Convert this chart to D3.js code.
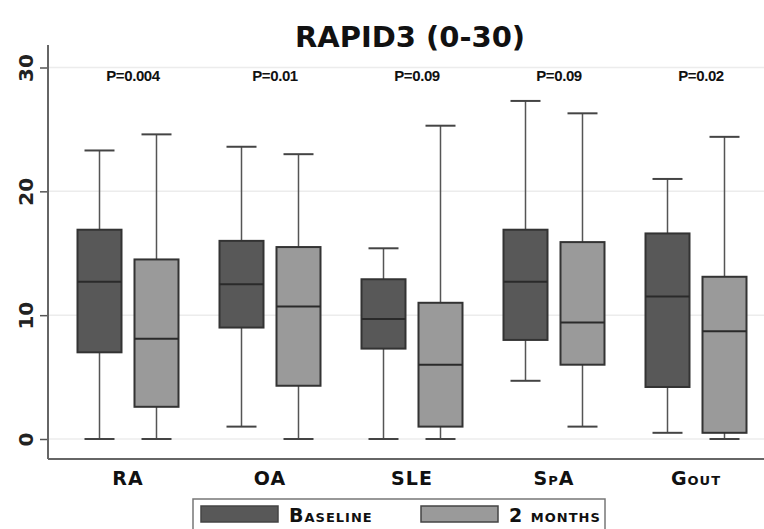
<!DOCTYPE html>
<html>
<head>
<meta charset="utf-8">
<script src="https://cdn.jsdelivr.net/npm/d3@7"></script>
<style>
  body { margin: 0; background: #fff; }
  svg { display: block; }
</style>
</head>
<body>
<svg id="chart" width="764" height="529"></svg>
<script>
// box stats: [min, q1, median, q3, max]
const groups = ["RA", "OA", "SLE", "SpA", "Gout"];
const series = ["Baseline", "2 months"];
const baseline = [
  [0, 7.0, 12.7, 16.9, 23.3],
  [1.0, 9.0, 12.5, 16.0, 23.6],
  [0, 7.3, 9.7, 12.9, 15.4],
  [4.7, 8.0, 12.7, 16.9, 27.3],
  [0.5, 4.2, 11.5, 16.6, 21.0]
];
const twoMonths = [
  [0, 2.6, 8.1, 14.5, 24.6],
  [0, 4.3, 10.7, 15.5, 23.0],
  [0, 1.0, 6.0, 11.0, 25.3],
  [1.0, 6.0, 9.4, 15.9, 26.3],
  [0, 0.5, 8.7, 13.1, 24.4]
];
const pValues = ["P=0.004", "P=0.01", "P=0.09", "P=0.09", "P=0.02"];
const yTicks = [0, 10, 20, 30];

const svg = d3.select("#chart");
const W = 764;
const fill = ["#585858", "#9a9a9a"];
const font = "'DejaVu Sans', sans-serif";

const x = d3.scaleBand().domain(groups).range([57, 767]);
const y = d3.scaleLinear().domain([0, 30]).range([439, 67.5]);
const pairW = 101;
const xs = d3.scaleBand().domain(series).range([0, pairW]).paddingInner(0.228);
const off = (x.bandwidth() - pairW) / 2;
const cx = d => x(d) + x.bandwidth() / 2;

// title
svg.append("text")
  .attr("x", 410).attr("y", 47)
  .attr("text-anchor", "middle")
  .style("font-family", font).style("font-weight", "bold")
  .style("font-size", "29px").style("fill", "#111")
  .text("RAPID3 (0-30)");

// grid lines
svg.append("g").selectAll("line").data(yTicks).enter().append("line")
  .attr("x1", 48).attr("x2", W)
  .attr("y1", d => y(d)).attr("y2", d => y(d))
  .attr("stroke", "#ececec").attr("stroke-width", 1.5);

// y axis
const yAxis = svg.append("g")
  .attr("transform", "translate(48,0)")
  .call(d3.axisLeft(y).tickValues(yTicks).tickSize(8).tickSizeOuter(0));
yAxis.select(".domain").remove();
yAxis.selectAll(".tick line").attr("stroke", "#555").attr("stroke-width", 1.5);
yAxis.selectAll(".tick text")
  .attr("x", 0).attr("y", 0).attr("dy", 0)
  .attr("text-anchor", "middle")
  .attr("transform", "translate(-22,0) rotate(-90)")
  .attr("dominant-baseline", "central")
  .style("font-family", font).style("font-weight", "bold")
  .style("font-size", "20px").style("fill", "#222");

svg.append("line")
  .attr("x1", 48).attr("x2", 48).attr("y1", 45).attr("y2", 459)
  .attr("stroke", "#666").attr("stroke-width", 2);

// x axis
const xAxis = svg.append("g")
  .attr("transform", "translate(0,459)")
  .call(d3.axisBottom(x).tickSize(0).tickSizeOuter(0));
xAxis.select(".domain").attr("d", "M48,0H" + W).attr("stroke", "#666").attr("stroke-width", 2);
xAxis.selectAll(".tick text")
  .attr("y", 13)
  .style("font-family", font).style("font-weight", "bold")
  .style("font-size", "19px").style("font-variant", "small-caps")
  .style("letter-spacing", "1px")
  .style("fill", "#111");

// p values
svg.append("g").selectAll("text").data(pValues).enter().append("text")
  .attr("x", (d, i) => cx(groups[i]) + 5)
  .attr("y", 81)
  .attr("text-anchor", "middle")
  .style("font-family", "'Liberation Sans', Arial, sans-serif")
  .style("font-weight", "bold").style("font-size", "15px")
  .style("letter-spacing", "-0.4px")
  .style("fill", "#111")
  .text(d => d);

// boxes
const stats = [baseline, twoMonths];
const capW = 30;
series.forEach((s, si) => {
  const g = svg.append("g");
  const cell = g.selectAll("g").data(stats[si]).enter().append("g")
    .attr("transform", (d, i) => "translate(" + (x(groups[i]) + off + xs(s)) + ",0)");
  const bw = xs.bandwidth();
  cell.append("line")
    .attr("x1", bw / 2).attr("x2", bw / 2)
    .attr("y1", d => y(d[0])).attr("y2", d => y(d[4]))
    .attr("stroke", "#555").attr("stroke-width", 1.5);
  cell.selectAll(".cap").data(d => [d[0], d[4]]).enter().append("line")
    .attr("x1", bw / 2 - capW / 2).attr("x2", bw / 2 + capW / 2)
    .attr("y1", d => y(d)).attr("y2", d => y(d))
    .attr("stroke", "#444").attr("stroke-width", 2);
  cell.append("rect")
    .attr("x", 0).attr("width", bw)
    .attr("y", d => y(d[3])).attr("height", d => y(d[1]) - y(d[3]))
    .attr("fill", fill[si]).attr("stroke", "#333").attr("stroke-width", 2);
  cell.append("line")
    .attr("x1", 0).attr("x2", bw)
    .attr("y1", d => y(d[2])).attr("y2", d => y(d[2]))
    .attr("stroke", "#2a2a2a").attr("stroke-width", 2);
});

// legend
const leg = svg.append("g");
leg.append("rect")
  .attr("x", 193).attr("y", 499).attr("width", 412).attr("height", 40)
  .attr("fill", "#fff").attr("stroke", "#777").attr("stroke-width", 1.5);
const items = leg.selectAll("g").data(series).enter().append("g")
  .attr("transform", (d, i) => "translate(" + (201 + i * 220) + ",506)");
items.append("rect")
  .attr("width", 77).attr("height", 16)
  .attr("fill", (d, i) => fill[i]).attr("stroke", "#444").attr("stroke-width", 1.5);
items.append("text")
  .attr("x", 88).attr("y", 16)
  .style("font-family", font).style("font-weight", "bold")
  .style("font-size", "19px").style("font-variant", "small-caps")
  .style("letter-spacing", "1px")
  .style("fill", "#111")
  .text(d => d);
</script>
</body>
</html>
